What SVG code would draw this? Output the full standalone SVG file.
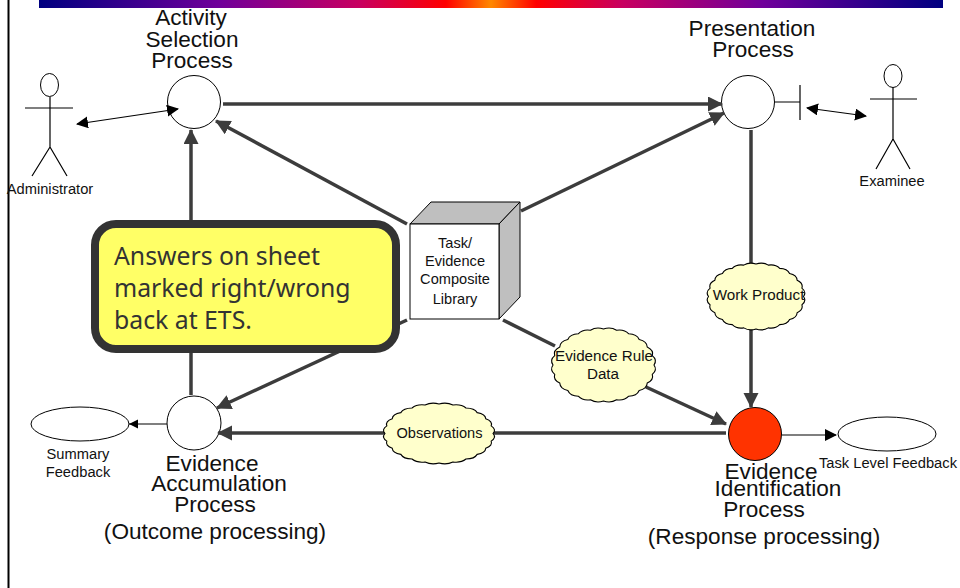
<svg xmlns="http://www.w3.org/2000/svg" width="960" height="588" viewBox="0 0 960 588">
<style>
text{font-family:"Liberation Sans",Arial,sans-serif;fill:#111;text-anchor:middle}
.big{font-size:22.6px}.mid{font-size:14.6px}.small{font-size:14.7px}.cloudt{font-size:15.2px}
.c{fill:none;stroke:#3c3c3c;stroke-width:3.5}
.t{fill:none;stroke:#000;stroke-width:1.2}
.n{fill:#fff;stroke:#000;stroke-width:1}
.cl{fill:#ffffcc;stroke:#000;stroke-width:1.1;vector-effect:non-scaling-stroke}
</style>
<defs>
<linearGradient id="bar" x1="0" x2="1" y1="0" y2="0">
<stop offset="0" stop-color="#000080"/><stop offset="0.2" stop-color="#70009a"/><stop offset="0.355" stop-color="#c80060"/><stop offset="0.45" stop-color="#ff0000"/><stop offset="0.5" stop-color="#ff8800"/><stop offset="0.55" stop-color="#ff0000"/><stop offset="0.645" stop-color="#c80060"/><stop offset="0.8" stop-color="#70009a"/><stop offset="1" stop-color="#000080"/>
</linearGradient>
<marker id="h" markerUnits="userSpaceOnUse" markerWidth="16" markerHeight="16" refX="14" refY="7.500" orient="auto"><path d="M0 0L15 7.500L0 15z" fill="#3c3c3c"/></marker>
<marker id="b" markerUnits="userSpaceOnUse" markerWidth="12" markerHeight="14" refX="11" refY="6" orient="auto-start-reverse"><path d="M0 0L12 6L0 12z" fill="#000"/></marker>
<marker id="s" markerUnits="userSpaceOnUse" markerWidth="10" markerHeight="10" refX="9" refY="4.500" orient="auto"><path d="M0 0L9 4.500L0 9z" fill="#000"/></marker>
<path id="cloud" class="cl" d="M100 0Q107 14 96.600 25.900Q100 41 86.600 50Q86 66 70.700 70.700Q66 86 50 86.600Q41 100 25.900 96.600Q14 107 0 100Q-14 107 -25.900 96.600Q-41 100 -50 86.600Q-66 86 -70.700 70.700Q-86 66 -86.600 50Q-100 41 -96.600 25.900Q-107 14 -100 0Q-107 -14 -96.600 -25.900Q-100 -41 -86.600 -50Q-86 -66 -70.700 -70.700Q-66 -86 -50 -86.600Q-41 -100 -25.900 -96.600Q-14 -107 0 -100Q14 -107 25.900 -96.600Q41 -100 50 -86.600Q66 -86 70.700 -70.700Q86 -66 86.600 -50Q100 -41 96.600 -25.900Q107 -14 100 0z"/>
</defs>
<rect x="39" y="0" width="904" height="8" fill="url(#bar)"/>
<path d="M8.500 0V588" stroke="#000" stroke-width="2" fill="none"/>
<g id="activity-selection">
<circle class="n" cx="194" cy="102" r="26.500"/>
<text class="big"><tspan x="191" y="25">Activity</tspan><tspan x="192" y="47">Selection</tspan><tspan x="192" y="68">Process</tspan></text>
</g>
<g id="presentation">
<circle class="n" cx="748" cy="102" r="26.500"/>
<text class="big"><tspan x="752" y="36">Presentation</tspan><tspan x="753" y="57">Process</tspan></text>
</g>
<g id="accumulation">
<circle class="n" cx="194" cy="423" r="27"/>
<text class="big"><tspan x="212" y="471">Evidence</tspan><tspan x="219" y="491">Accumulation</tspan><tspan x="215" y="512">Process</tspan><tspan x="215" y="539">(Outcome processing)</tspan></text>
</g>
<g id="identification">
<circle cx="755" cy="434" r="26.500" fill="#ff3300" stroke="#000"/>
<text class="big"><tspan x="771" y="479">Evidence</tspan><tspan x="778" y="496">Identification</tspan><tspan x="764" y="517">Process</tspan><tspan x="764" y="544">(Response processing)</tspan></text>
</g>
<g id="connectors">
<path class="c" d="M223 104H722" marker-end="url(#h)"/>
<path class="c" d="M191 220V130" marker-end="url(#h)"/>
<path class="c" d="M191 395V350"/>
<path class="c" d="M407 224L216 121" marker-end="url(#h)"/>
<path class="c" d="M521 211L724 113" marker-end="url(#h)"/>
<path class="c" d="M407 320L217 408" marker-end="url(#h)"/>
<path class="c" d="M503 320L555 346"/>
<path class="c" d="M646 387L726 424" marker-end="url(#h)"/>
<path class="c" d="M751 130V264"/>
<path class="c" d="M751 328V407" marker-end="url(#h)"/>
<path class="c" d="M726 433H218" marker-end="url(#h)"/>
<path class="t" d="M77 124L178 109" marker-start="url(#b)" marker-end="url(#b)"/>
<path class="t" d="M807 108L866 116" marker-start="url(#b)" marker-end="url(#b)"/>
<path class="t" d="M167 424H129" marker-end="url(#s)"/>
<path class="t" d="M782 435H836" marker-end="url(#b)"/>
<path class="t" d="M775 102H800M800 85V120"/>
</g>
<g id="administrator">
<path class="t" d="M50 97V147M25 108H73M50 147L32 176M50 147L67 176"/>
<ellipse class="n" cx="49.500" cy="85" rx="9" ry="11.500"/>
<text class="small" x="50" y="194">Administrator</text>
</g>
<g id="examinee">
<path class="t" d="M893 87V139M870 99H917M893 139L876 169M893 139L910 169"/>
<ellipse class="n" cx="893" cy="76" rx="9" ry="11.500"/>
<text class="small" x="892" y="186">Examinee</text>
</g>
<g id="composite-library">
<path d="M410 224L431 202H520L499 224z" fill="#bfbfbf" stroke="#000"/>
<path d="M499 224L520 202V297L499 319z" fill="#bfbfbf" stroke="#000"/>
<rect class="n" x="410" y="224" width="89" height="95"/>
<text class="mid"><tspan x="455" y="248">Task/</tspan><tspan x="455" y="266">Evidence</tspan><tspan x="455" y="284">Composite</tspan><tspan x="455" y="304">Library</tspan></text>
</g>
<g id="work-product">
<use href="#cloud" transform="translate(756 296.500) scale(.475 .325)"/>
<text class="cloudt" x="758.500" y="300">Work Product</text>
</g>
<g id="evidence-rule">
<use href="#cloud" transform="translate(603.500 365) scale(.505 .36)"/>
<text class="cloudt"><tspan x="604" y="361">Evidence Rule</tspan><tspan x="603" y="379">Data</tspan></text>
</g>
<g id="observations">
<use href="#cloud" transform="translate(439 433.500) scale(.54 .295)"/>
<text class="mid" x="439.500" y="438">Observations</text>
</g>
<g id="summary-feedback">
<ellipse class="n" cx="80" cy="424" rx="49" ry="17"/>
<text class="small"><tspan x="78" y="459">Summary</tspan><tspan x="78" y="477">Feedback</tspan></text>
</g>
<g id="task-feedback">
<ellipse class="n" cx="887" cy="434" rx="49" ry="17"/>
<text class="small" x="888" y="468">Task Level Feedback</text>
</g>
<g id="callout">
<rect x="95" y="224" width="301" height="125" rx="21" fill="#ffff66" stroke="#333" stroke-width="8"/>
<text style="font-family:'Noto Sans','DejaVu Sans',sans-serif;font-size:24.800px;fill:#333;text-anchor:start"><tspan x="114" y="265">Answers on sheet</tspan><tspan x="114" y="297">marked right/wrong</tspan><tspan x="114" y="329">back at ETS.</tspan></text>
</g>
</svg>
